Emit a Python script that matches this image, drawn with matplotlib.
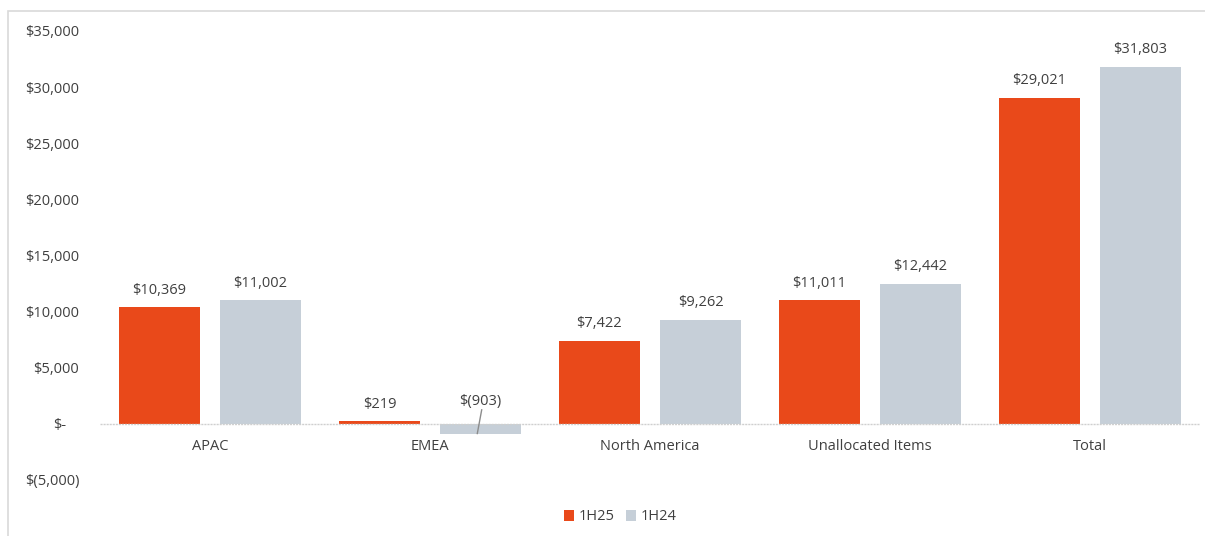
import matplotlib.pyplot as plt
import matplotlib.patches as mpatches
import numpy as np

plt.rcParams['font.family'] = ['Open Sans', 'DejaVu Sans']

# data
categories = ['APAC', 'EMEA', 'North America', 'Unallocated Items', 'Total']
h1_25 = [10369, 219, 7422, 11011, 29021]
h1_24 = [11002, -903, 9262, 12442, 31803]
series_names = ['1H25', '1H24']
yticks = [-5000, 0, 5000, 10000, 15000, 20000, 25000, 30000, 35000]

orange = '#E9491A'
grey = '#C6CFD8'
text_col = '#404040'

def money(v):
    if v == 0:
        return '$-'
    if v < 0:
        return '$({:,})'.format(-v)
    return '${:,}'.format(v)

fig = plt.figure(figsize=(12.05, 5.36), dpi=100)
W, H = 1205, 536
ax = fig.add_axes([100 / W, (H - 480) / H, 1100 / W, (480 - 31) / H])

x = np.arange(len(categories))
w = 0.365
off = 0.23
b1 = ax.bar(x - off, h1_25, w, color=orange, label=series_names[0], zorder=2)
b2 = ax.bar(x + off, h1_24, w, color=grey, label=series_names[1], zorder=2)

ax.set_xlim(-0.5, len(categories) - 0.5)
ax.set_ylim(-5000, 35000)
ax.set_yticks(yticks)
ax.set_yticklabels([money(v) for v in yticks])
ax.tick_params(axis='y', length=0, pad=15, labelsize=10.5, labelcolor=text_col)
ax.set_xticks([])
for s in ax.spines.values():
    s.set_visible(False)
ax.axhline(0, color='#CFCFCF', lw=1, ls=(0, (1.5, 0.7)), zorder=3)

# "$-" sits a bit inward, like the accounting format
for lbl, v in zip(ax.get_yticklabels(), yticks):
    if v == 0:
        lbl.set_x(-0.012)

# category labels just under zero line
for xi, c in zip(x, categories):
    ax.annotate(c, (xi, 0), xytext=(0, -11), textcoords='offset points',
                ha='center', va='top', fontsize=10.5, color=text_col)

# value labels
for bars, vals in [(b1, h1_25), (b2, h1_24)]:
    for r, v in zip(bars, vals):
        cx = r.get_x() + r.get_width() / 2
        if v >= 0:
            ax.annotate(money(v), (cx, v), xytext=(0, 7), textcoords='offset points',
                        ha='center', va='bottom', fontsize=10.5, color=text_col)
        else:
            ax.annotate(money(v), (cx, 0), xytext=(0, 11), textcoords='offset points',
                        ha='center', va='bottom', fontsize=10.5, color=text_col)
            ax.plot([cx - 0.015, cx + 0.005], [v * 0.95, 1250], color='#8C8C8C',
                    lw=1, zorder=4)

leg = fig.legend(handles=[b1, b2], loc='center', bbox_to_anchor=(620 / W, (H - 517) / H),
                 ncol=2, frameon=False, fontsize=10.5, handlelength=0.7, handleheight=0.7,
                 handletextpad=0.3, columnspacing=0.8)
for t in leg.get_texts():
    t.set_color(text_col)

# outer chart border
fig.patches.append(mpatches.Rectangle((8 / W, -0.01), 1.0, (H - 11) / H + 0.01,
                                      transform=fig.transFigure, fill=False,
                                      edgecolor='#D9D9D9', lw=1.2))

fig.savefig('out.png', dpi=100)
